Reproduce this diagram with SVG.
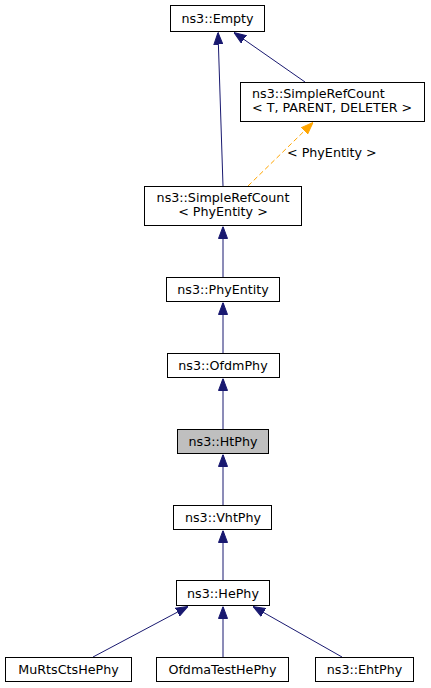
<svg xmlns="http://www.w3.org/2000/svg" width="431" height="688" viewBox="0 0 431 688">
<style>
.box{fill:#ffffff;stroke:#000000;stroke-width:1}
.cur{fill:#bfbfbf;stroke:#000000;stroke-width:1}
text{font-family:"DejaVu Sans","Liberation Sans",sans-serif;font-size:12.7px;fill:#000000}
.c{text-anchor:middle}
.edge{stroke:#191970;stroke-width:1;fill:none;marker-end:url(#ah)}
.tmpl{stroke:#ffa500;stroke-width:1;fill:none;stroke-dasharray:5,3;marker-end:url(#aho)}
</style>
<defs>
<marker id="ah" markerUnits="userSpaceOnUse" markerWidth="12" markerHeight="10" viewBox="0 -5 12 10" refX="12" refY="0" orient="auto">
<path d="M0,-4.5 L12,0 L0,4.5 z" fill="#191970" stroke="#191970" stroke-width="1"/>
</marker>
<marker id="aho" markerUnits="userSpaceOnUse" markerWidth="12" markerHeight="10" viewBox="0 -5 12 10" refX="12" refY="0" orient="auto">
<path d="M0,-4.5 L12,0 L0,4.5 z" fill="#ffa500" stroke="#ffa500" stroke-width="1"/>
</marker>
</defs>
<g id="connectors">
<line class="edge" x1="223" y1="186" x2="218" y2="32.5"/>
<line class="edge" x1="305" y1="82" x2="234" y2="32.5"/>
<line class="tmpl" x1="248" y1="186" x2="313" y2="122.5"/>
<text x="287" y="157">&lt; PhyEntity &gt;</text>
<line class="edge" x1="223" y1="277" x2="223" y2="226.5"/>
<line class="edge" x1="223" y1="353" x2="223" y2="302.5"/>
<line class="edge" x1="223" y1="429" x2="223" y2="378.5"/>
<line class="edge" x1="223" y1="505" x2="223" y2="454.5"/>
<line class="edge" x1="223" y1="580" x2="223" y2="530.5"/>
<line class="edge" x1="93" y1="657" x2="188" y2="606.5"/>
<line class="edge" x1="223" y1="657" x2="223" y2="606.5"/>
<line class="edge" x1="342" y1="657" x2="253" y2="606.5"/>
</g>
<g id="empty">
<rect class="box" x="170.5" y="5.5" width="94" height="26"/>
<text class="c" x="217.5" y="23">ns3::Empty</text>
</g>
<g id="simplerefcount_t">
<rect class="box" x="240.5" y="82.5" width="184" height="39"/>
<text x="252" y="97.5">ns3::SimpleRefCount</text>
<text x="252" y="112">&lt; T, PARENT, DELETER &gt;</text>
</g>
<g id="simplerefcount_phyentity">
<rect class="box" x="144.5" y="186.5" width="157" height="39"/>
<text class="c" x="223" y="201.5">ns3::SimpleRefCount</text>
<text class="c" x="223" y="216">&lt; PhyEntity &gt;</text>
</g>
<g id="phyentity">
<rect class="box" x="166.5" y="277.5" width="113" height="24"/>
<text class="c" x="223" y="294">ns3::PhyEntity</text>
</g>
<g id="ofdmphy">
<rect class="box" x="167.5" y="353.5" width="112" height="24"/>
<text class="c" x="223" y="370">ns3::OfdmPhy</text>
</g>
<g id="htphy">
<rect class="cur" x="177.5" y="429.5" width="91" height="24"/>
<text class="c" x="223" y="446">ns3::HtPhy</text>
</g>
<g id="vhtphy">
<rect class="box" x="173.5" y="505.5" width="98" height="24"/>
<text class="c" x="223" y="522">ns3::VhtPhy</text>
</g>
<g id="hephy">
<rect class="box" x="176.5" y="580.5" width="93" height="25"/>
<text class="c" x="223" y="597.5">ns3::HePhy</text>
</g>
<g id="murtsctshephy">
<rect class="box" x="5.5" y="657.5" width="126" height="24"/>
<text class="c" x="68.5" y="674">MuRtsCtsHePhy</text>
</g>
<g id="ofdmatesthephy">
<rect class="box" x="156.5" y="657.5" width="132" height="24"/>
<text class="c" x="222.5" y="674">OfdmaTestHePhy</text>
</g>
<g id="ehtphy">
<rect class="box" x="315.5" y="657.5" width="98" height="24"/>
<text class="c" x="364.5" y="674">ns3::EhtPhy</text>
</g>
</svg>
